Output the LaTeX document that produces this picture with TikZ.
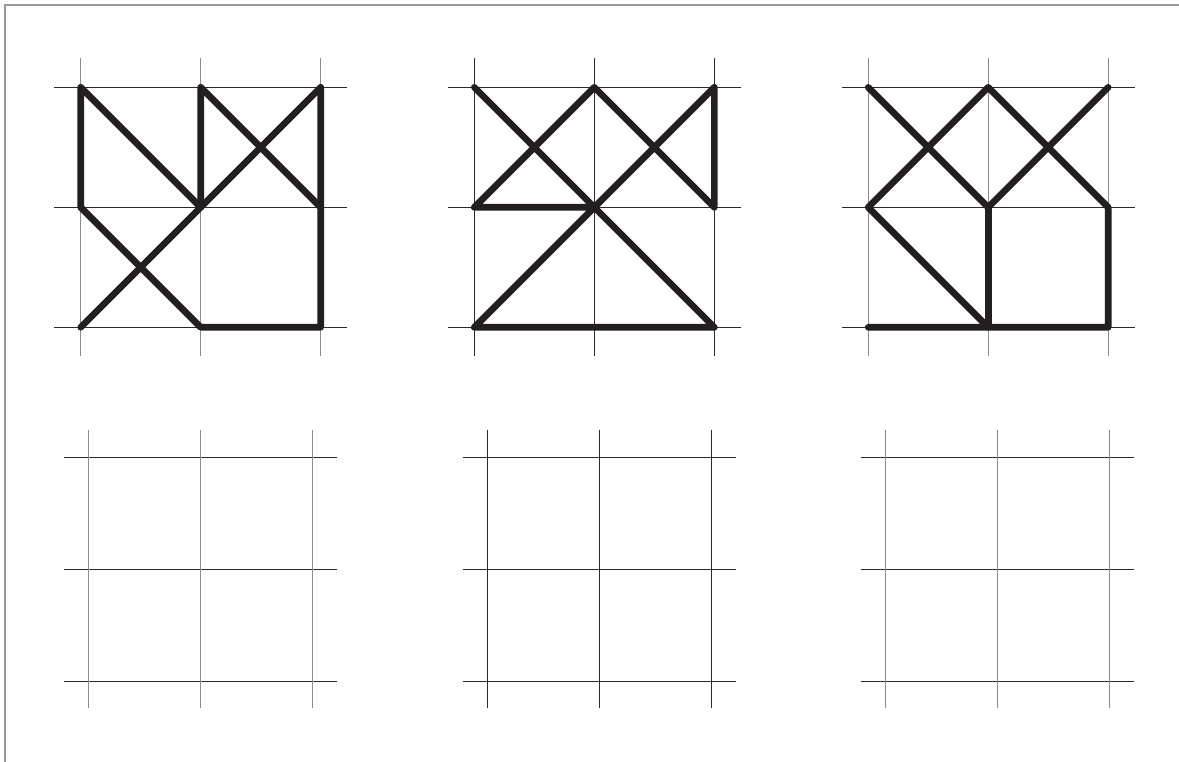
\documentclass[tikz,border=0pt]{standalone}
\definecolor{ink}{HTML}{231F20}
\definecolor{gridgray}{HTML}{8C8C8C}
\definecolor{griddark}{HTML}{2A2A2A}
\definecolor{framegray}{HTML}{9A9A9A}
\tikzset{
  hline/.style={draw=griddark, line width=1.1pt},
  vgray/.style={draw=gridgray, line width=1.4pt},
  vdark/.style={draw=griddark, line width=1.1pt},
  bold/.style={draw=ink, line width=6.6pt, line cap=round, line join=round},
  framebar/.style={draw=framegray, line width=2pt}
}
\newcommand\mygrid[1]{%
  \foreach \k in {0,1,2} {\draw[hline] (-0.22,\k) -- (2.22,\k);}
  \foreach \k in {0,1,2} {\draw[#1] (\k,-0.24) -- (\k,2.24);}
}
\begin{document}
\begin{tikzpicture}[x=1pt,y=-1pt]
\useasboundingbox (0,0) rectangle (1179,762);
\fill[white] (0,0) rectangle (1179,762);
\draw[framebar] (1179,5) -- (5,5) -- (5,762);

% top row
\begin{scope}[shift={(80.7,87.3)}, x=120pt, y=-120pt]
  \mygrid{vgray}
  \draw[bold] (0,1) -- (0,0) -- (1,1);
  \draw[bold] (0,1) -- (1,2) -- (2,2) -- (2,0) -- (0,2);
  \draw[bold] (1,1) -- (1,0) -- (2,1);
\end{scope}
\begin{scope}[shift={(474.3,87.3)}, x=120pt, y=-120pt]
  \mygrid{vdark}
  \draw[bold] (0,0) -- (2,2) -- (0,2) -- (2,0) -- (2,1) -- (1,0) -- (0,1) -- (1,1);
\end{scope}
\begin{scope}[shift={(868.2,87.3)}, x=120pt, y=-120pt]
  \mygrid{vgray}
  \draw[bold] (0,0) -- (1,1) -- (2,0);
  \draw[bold] (1,1) -- (1,2);
  \draw[bold] (1,2) -- (0,1) -- (1,0) -- (2,1) -- (2,2) -- (0,2);
\end{scope}

% bottom row
\begin{scope}[shift={(88.7,457.3)}, x=112pt, y=-112pt]
  \mygrid{vgray}
\end{scope}
\begin{scope}[shift={(487.3,457.3)}, x=112pt, y=-112pt]
  \mygrid{vdark}
\end{scope}
\begin{scope}[shift={(885.7,457.3)}, x=112pt, y=-112pt]
  \mygrid{vgray}
\end{scope}
\end{tikzpicture}
\end{document}
